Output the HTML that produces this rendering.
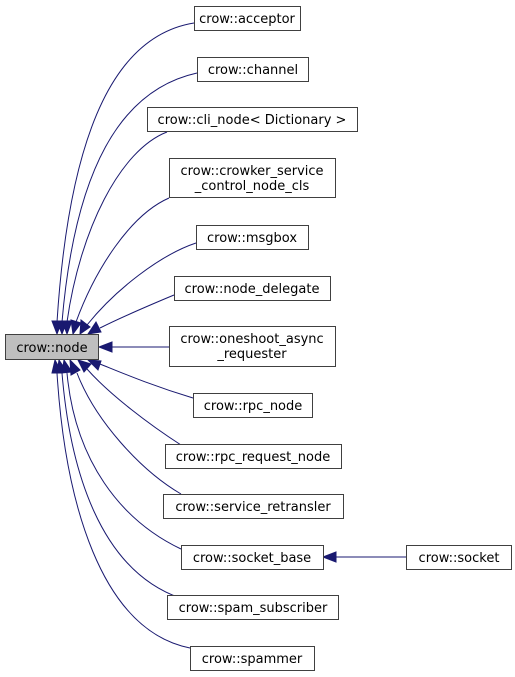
<!DOCTYPE html>
<html><head><meta charset="utf-8"><style>
html,body{margin:0;padding:0;background:#fff;}
svg{display:block;}
text{font-family:"DejaVu Sans","Liberation Sans",sans-serif;font-size:13px;fill:#000;}
</style></head><body>
<svg width="515" height="677" viewBox="0 0 515 677" xmlns="http://www.w3.org/2000/svg">
<g fill="none" stroke="#191970" stroke-width="1">
<path d="M194,23 C120,35 70,120 57,322"/>
<path d="M197,73 C120,90 75,170 62,322"/>
<path d="M167,132 C120,150 80,230 67,322"/>
<path d="M169,198 C130,215 95,270 76,322"/>
<path d="M196,243 C160,255 115,290 87,325"/>
<path d="M174,295 C150,305 120,318 100,328"/>
<path d="M169,347 L112,347"/>
<path d="M193,398 C150,385 120,372 100,364"/>
<path d="M181,445 C150,425 110,395 87,369"/>
<path d="M181,494 C140,470 95,420 77,373"/>
<path d="M181,549 C120,520 75,460 67,373"/>
<path d="M180,598 C100,570 70,470 62,373"/>
<path d="M190,648 C100,630 65,500 57,373"/>
<path d="M406,557 L336,557"/>
</g>
<g fill="#191970" stroke="#191970">
<polygon points="57,334 52,321 62,321"/>
<polygon points="62,334 57,321 67,321"/>
<polygon points="67,334 62,321 72,321"/>
<polygon points="73,334 71,320 81,323"/>
<polygon points="80,334 81,320 90,327"/>
<polygon points="88,334 96,322 101,332"/>
<polygon points="99,347 112,342 112,352"/>
<polygon points="88,360 101,361 98,370"/>
<polygon points="78,360 91,364 84,372"/>
<polygon points="70,360 80,370 71,375"/>
<polygon points="64,360 72,372 62,373"/>
<polygon points="59,360 67,372 57,373"/>
<polygon points="55,360 62,373 52,373"/>
<polygon points="323,557 336,552 336,562"/>
</g>
<g stroke="#404040" stroke-width="1" fill="#fff">
<rect x="5.5" y="334.5" width="93" height="25" fill="#bfbfbf"/>
<rect x="194.5" y="6.5" width="106" height="24"/>
<rect x="197.5" y="57.5" width="111" height="24"/>
<rect x="147.5" y="107.5" width="210" height="24"/>
<rect x="169.5" y="158.5" width="166" height="39"/>
<rect x="196.5" y="225.5" width="112" height="24"/>
<rect x="174.5" y="276.5" width="156" height="24"/>
<rect x="169.5" y="326.5" width="166" height="40"/>
<rect x="193.5" y="393.5" width="119" height="24"/>
<rect x="165.5" y="444.5" width="176" height="24"/>
<rect x="163.5" y="494.5" width="180" height="24"/>
<rect x="181.5" y="545.5" width="142" height="24"/>
<rect x="406.5" y="545.5" width="105" height="24"/>
<rect x="167.5" y="595.5" width="171" height="24"/>
<rect x="190.5" y="646.5" width="124" height="24"/>
</g>
<g text-anchor="middle">
<text x="52" y="352">crow::node</text>
<text x="247" y="23">crow::acceptor</text>
<text x="253" y="74">crow::channel</text>
<text x="252" y="124">crow::cli_node&lt; Dictionary &gt;</text>
<text x="252" y="175">crow::crowker_service</text>
<text x="252" y="190">_control_node_cls</text>
<text x="252" y="242">crow::msgbox</text>
<text x="252" y="293">crow::node_delegate</text>
<text x="252" y="343">crow::oneshoot_async</text>
<text x="252" y="358">_requester</text>
<text x="253" y="410">crow::rpc_node</text>
<text x="253" y="461">crow::rpc_request_node</text>
<text x="253" y="511">crow::service_retransler</text>
<text x="252" y="562">crow::socket_base</text>
<text x="459" y="562">crow::socket</text>
<text x="253" y="612">crow::spam_subscriber</text>
<text x="252" y="663">crow::spammer</text>
</g>
</svg>
</body></html>
